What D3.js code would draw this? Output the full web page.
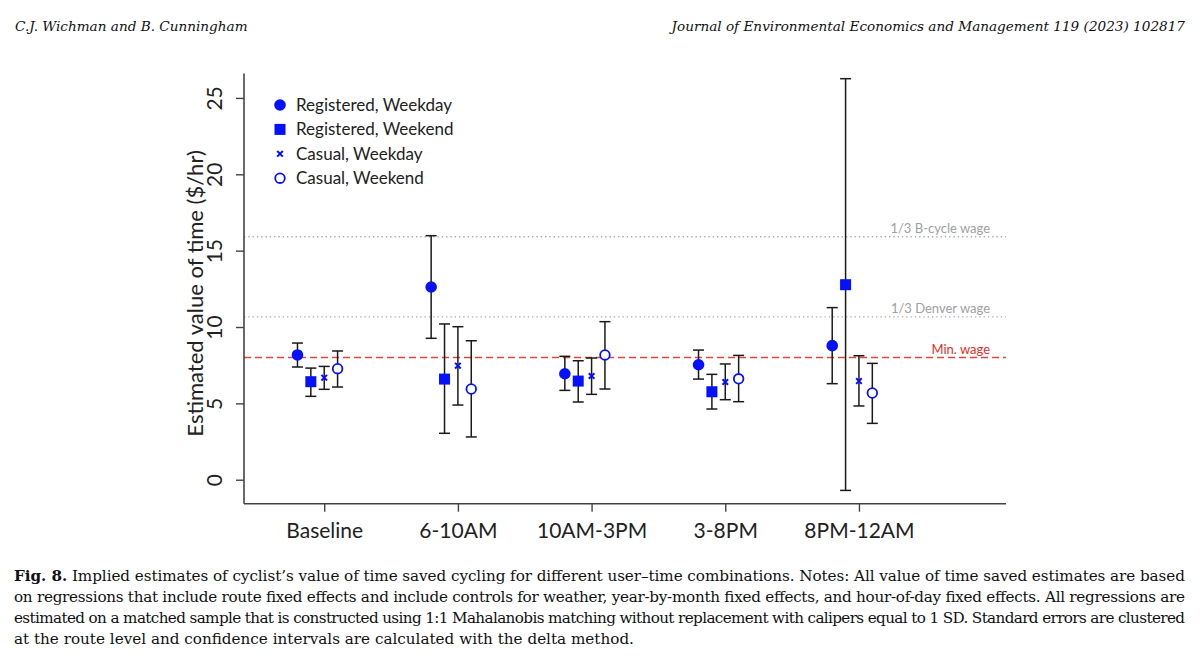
<!DOCTYPE html>
<html>
<head>
<meta charset="utf-8">
<script src="https://cdn.jsdelivr.net/npm/d3@7"></script>
<style>
  body { margin: 0; background: #fff; }
  svg { display: block; }
</style>
</head>
<body>
<div id="cont"></div>
<script>
// time-of-day groups on the x axis
var periods = ["Baseline", "6-10AM", "10AM-3PM", "3-8PM", "8PM-12AM"];

// point estimates and 95% CI bounds, $/hr
var regWeekday   = [8.17, 12.62, 6.94, 7.53, 8.78];
var regWeekdayLo = [7.38, 9.26, 5.85, 6.59, 6.29];
var regWeekdayHi = [8.95, 15.98, 8.08, 8.49, 11.27];

var regWeekend   = [6.42, 6.59, 6.46, 5.76, 12.77];
var regWeekendLo = [5.46, 3.04, 5.09, 4.63, -0.70];
var regWeekendHi = [7.31, 10.20, 7.79, 6.90, 26.26];

var casWeekday   = [6.68, 7.47, 6.79, 6.40, 6.46];
var casWeekdayLo = [5.92, 4.89, 5.59, 5.24, 4.83];
var casWeekdayHi = [7.42, 10.02, 7.97, 7.58, 8.12];

var casWeekend   = [7.27, 5.94, 8.17, 6.61, 5.68];
var casWeekendLo = [6.07, 2.80, 5.94, 5.11, 3.69];
var casWeekendHi = [8.43, 9.10, 10.35, 8.14, 7.62];

var seriesNames = ["Registered, Weekday", "Registered, Weekend", "Casual, Weekday", "Casual, Weekend"];
var seriesOffset = [-0.2, -0.1, 0, 0.1];

// wage reference lines
var refValues = [15.91, 10.67, 8.0];
var refLabels = ["1/3 B-cycle wage", "1/3 Denver wage", "Min. wage"];

var yTicks = [0, 5, 10, 15, 20, 25];

var caption = [
  "Implied estimates of cyclist\u2019s value of time saved cycling for different user\u2013time combinations. Notes: All value of time saved estimates are based",
  "on regressions that include route fixed effects and include controls for weather, year-by-month fixed effects, and hour-of-day fixed effects. All regressions are",
  "estimated on a matched sample that is constructed using 1:1 Mahalanobis matching without replacement with calipers equal to 1 SD. Standard errors are clustered",
  "at the route level and confidence intervals are calculated with the delta method."
];

var series = [
  [regWeekday, regWeekdayLo, regWeekdayHi],
  [regWeekend, regWeekendLo, regWeekendHi],
  [casWeekday, casWeekdayLo, casWeekdayHi],
  [casWeekend, casWeekendLo, casWeekendHi]
];

var W = 1200, H = 661;
var blue = "#0510ff";
var chartFont = "Lato, 'Open Sans', sans-serif";
var serif = "'DejaVu Serif', 'Liberation Serif', serif";

var svg = d3.select("#cont").append("svg")
  .attr("width", W)
  .attr("height", H);

// page header
svg.append("text")
  .attr("x", 15).attr("y", 31)
  .style("font-family", serif).style("font-style", "italic")
  .style("font-size", "13.6px").style("fill", "#111")
  .text("C.J.  Wichman  and  B.  Cunningham");

svg.append("text")
  .attr("x", 1185).attr("y", 31)
  .attr("text-anchor", "end")
  .style("font-family", serif).style("font-style", "italic")
  .style("font-size", "13.6px").style("fill", "#111")
  .text("Journal of Environmental Economics and Management 119 (2023) 102817");

var x = d3.scaleLinear().domain([0.4, 6.1]).range([244, 1006]);
var y = d3.scaleLinear().domain([-1.57, 26.6]).range([503.7, 73.5]);

// reference lines
svg.selectAll("line.ref")
  .data(refValues)
  .enter()
  .append("line")
  .attr("x1", x(0.4)).attr("x2", x(6.1))
  .attr("y1", function(d) { return y(d); })
  .attr("y2", function(d) { return y(d); })
  .style("stroke", function(d, i) { return i == 2 ? "#e8443a" : "#aaa"; })
  .style("stroke-width", function(d, i) { return i == 2 ? 1.4 : 1.3; })
  .style("stroke-dasharray", function(d, i) { return i == 2 ? "7,4" : "1.3,3"; });

svg.selectAll("text.ref")
  .data(refValues)
  .enter()
  .append("text")
  .attr("x", 990)
  .attr("y", function(d) { return y(d) - 4; })
  .attr("text-anchor", "end")
  .style("font-family", chartFont)
  .style("font-size", "13px")
  .style("fill", function(d, i) { return i == 2 ? "#e0302a" : "#a0a0a0"; })
  .text(function(d, i) { return refLabels[i]; });

// axes
var yAxis = svg.append("g")
  .attr("transform", "translate(244,0)")
  .call(d3.axisLeft(y).tickValues(yTicks).tickSize(8).tickFormat(d3.format("d")));
yAxis.select(".domain").style("stroke", "#444").style("stroke-width", 1.6)
  .attr("d", "M0," + y(26.6) + "V" + y(-1.57));
yAxis.selectAll(".tick line").style("stroke", "#444").style("stroke-width", 1.4);
yAxis.selectAll(".tick text")
  .attr("transform", "rotate(-90)")
  .attr("x", 0).attr("y", -22)
  .attr("dy", "0")
  .attr("text-anchor", "middle")
  .style("font-family", chartFont).style("font-size", "21px").style("fill", "#222");

var xAxis = svg.append("g")
  .attr("transform", "translate(0,503.7)")
  .call(d3.axisBottom(x).tickValues([1, 2, 3, 4, 5]).tickSize(8)
    .tickFormat(function(d) { return periods[d - 1]; }));
xAxis.select(".domain").style("stroke", "#444").style("stroke-width", 1.6)
  .attr("d", "M" + x(0.4) + ",0H" + x(6.1));
xAxis.selectAll(".tick line").style("stroke", "#444").style("stroke-width", 1.4);
xAxis.selectAll(".tick text")
  .attr("y", 34).attr("dy", "0")
  .style("font-family", chartFont).style("font-size", "21px").style("fill", "#222");

svg.append("text")
  .attr("transform", "translate(203," + y(12.2) + ") rotate(-90)")
  .attr("text-anchor", "middle")
  .style("font-family", chartFont).style("font-size", "22px").style("fill", "#222")
  .text("Estimated value of time ($/hr)");

// error bars + markers
series.forEach(function(s, k) {
  var rows = periods.map(function(p, i) {
    return { px: i + 1 + seriesOffset[k], est: s[0][i], lo: s[1][i], hi: s[2][i] };
  });
  var g = svg.append("g");

  g.selectAll("line.ci")
    .data(rows).enter().append("line")
    .attr("x1", function(d) { return x(d.px); })
    .attr("x2", function(d) { return x(d.px); })
    .attr("y1", function(d) { return y(d.lo); })
    .attr("y2", function(d) { return y(d.hi); })
    .style("stroke", "#1a1a1a").style("stroke-width", 1.5);

  ["lo", "hi"].forEach(function(b) {
    g.selectAll("line.cap" + b)
      .data(rows).enter().append("line")
      .attr("x1", function(d) { return x(d.px) - 5.5; })
      .attr("x2", function(d) { return x(d.px) + 5.5; })
      .attr("y1", function(d) { return y(d[b]); })
      .attr("y2", function(d) { return y(d[b]); })
      .style("stroke", "#1a1a1a").style("stroke-width", 1.5);
  });

  drawMarker(g.selectAll("m").data(rows).enter(), k,
    function(d) { return x(d.px); }, function(d) { return y(d.est); });
});

function drawMarker(sel, k, fx, fy) {
  if (k == 0) {
    sel.append("circle")
      .attr("cx", fx).attr("cy", fy).attr("r", 5.8)
      .style("fill", blue);
  } else if (k == 1) {
    sel.append("rect")
      .attr("x", function(d) { return fx(d) - 5.5; })
      .attr("y", function(d) { return fy(d) - 5.5; })
      .attr("width", 11).attr("height", 11)
      .style("fill", blue);
  } else if (k == 2) {
    sel.append("path")
      .attr("d", function(d) {
        var cx = fx(d), cy = fy(d), r = 2.8;
        return "M" + (cx - r) + "," + (cy - r) + "L" + (cx + r) + "," + (cy + r) +
          "M" + (cx + r) + "," + (cy - r) + "L" + (cx - r) + "," + (cy + r);
      })
      .style("stroke", blue).style("stroke-width", 2).style("fill", "none");
  } else {
    sel.append("circle")
      .attr("cx", fx).attr("cy", fy).attr("r", 4.8)
      .style("fill", "white").style("stroke", blue).style("stroke-width", 1.8);
  }
}

// legend
var legend = svg.selectAll("g.leg")
  .data(seriesNames).enter().append("g")
  .attr("transform", function(d, i) { return "translate(280," + (105 + i * 24.4) + ")"; });

legend.each(function(d, i) {
  drawMarker(d3.select(this).selectAll("m").data([0]).enter(), i,
    function() { return 0; }, function() { return 0; });
});

legend.append("text")
  .attr("x", 16).attr("y", 6)
  .style("font-family", chartFont).style("font-size", "17px").style("fill", "#222")
  .text(function(d) { return d; });

// figure caption, justified lines
var cap = svg.selectAll("text.cap")
  .data(caption).enter().append("text")
  .attr("x", 14)
  .attr("y", function(d, i) { return 581 + i * 21; })
  .style("font-family", serif).style("font-size", "15.2px").style("fill", "#111");

cap.each(function(d, i) {
  var t = d3.select(this);
  if (i == 0) {
    t.append("tspan").style("font-weight", "bold").text("Fig. 8.");
    t.append("tspan").text(" " + d);
  } else {
    t.text(d);
  }
  if (i < caption.length - 1) {
    t.attr("textLength", 1171).attr("lengthAdjust", "spacing");
  }
});
</script>
</body>
</html>
